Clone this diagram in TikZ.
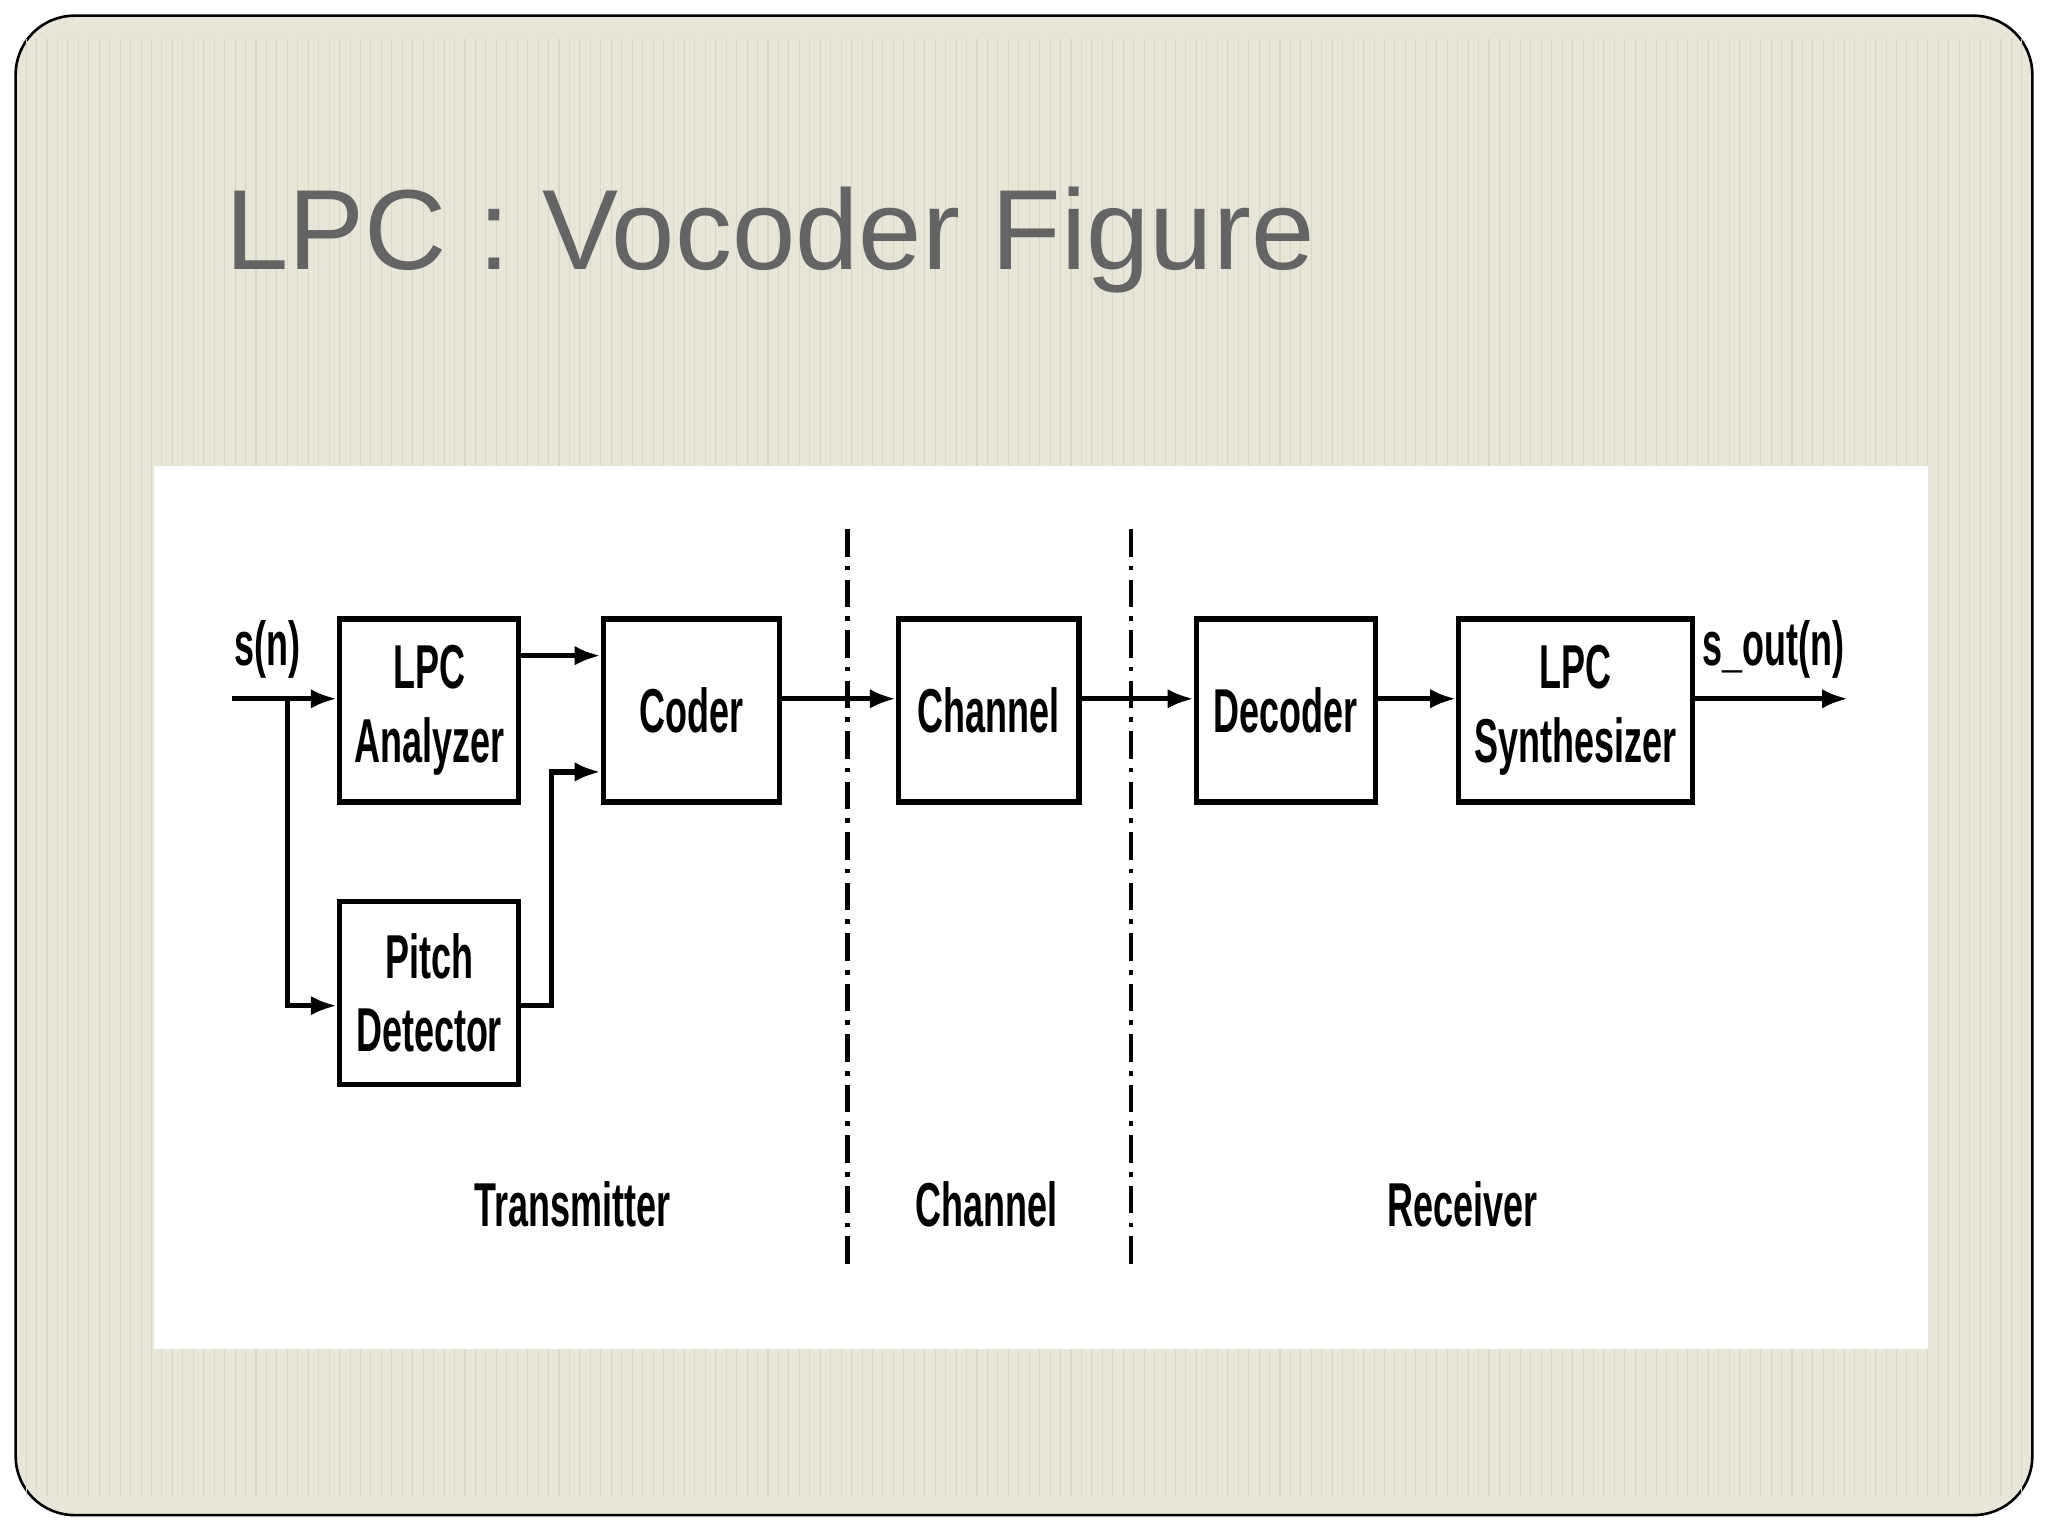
\documentclass[tikz,border=0pt]{standalone}
\usepackage{fontspec}
\setmainfont{Liberation Sans}
\usepackage{graphicx}
\usetikzlibrary{arrows.meta}
\definecolor{bgbeige}{RGB}{232,230,216}
\definecolor{stripe}{RGB}{218,215,198}
\definecolor{titlegray}{RGB}{100,100,100}
\newcommand{\cnd}[1]{\scalebox{0.58}[1]{#1}}
\begin{document}
\begin{tikzpicture}[x=0.01cm,y=-0.01cm,
  blk/.style={draw=black,line width=0.04cm,fill=white},
  lbl/.style={font=\fontsize{13.5}{14}\selectfont\bfseries,align=center,inner sep=0pt},
  con/.style={line width=0.04cm,-{Latex[length=0.2cm,width=0.15cm]}},
  sep/.style={line width=0.035cm,dash pattern=on 6pt off 2pt on 1pt off 2pt}]
\useasboundingbox (0,0) rectangle (1568,1176);
\fill[white] (0,0) rectangle (1568,1176);
\draw[fill=bgbeige,line width=0.02cm,rounded corners=0.45cm] (12,12) rectangle (1556,1160);
\foreach \x in {20,28,...,1550} \draw[stripe,line width=0.008cm] (\x,30) -- (\x,1145);
\node[anchor=west,text=titlegray,font=\fontsize{24.8}{28}\selectfont,inner sep=0pt] (title) at (172,184) {LPC : Vocoder Figure};
\fill[white] (118,357) rectangle (1476,1033);
\node[blk,minimum width=1.37cm,minimum height=1.4cm] (ana) at (328.5,544) {};
\node[lbl] at (ana) {\cnd{LPC}\\[2pt]\cnd{Analyzer}};
\node[blk,minimum width=1.35cm,minimum height=1.4cm] (cod) at (529.5,544) {};
\node[lbl] at (cod) {\cnd{Coder}};
\node[blk,minimum width=1.38cm,minimum height=1.4cm] (chn) at (757,544) {};
\node[lbl] at (chn) {\cnd{Channel}};
\node[blk,minimum width=1.37cm,minimum height=1.4cm] (dec) at (984.5,544) {};
\node[lbl] at (dec) {\cnd{Decoder}};
\node[blk,minimum width=1.79cm,minimum height=1.4cm] (syn) at (1206.5,544) {};
\node[lbl] at (syn) {\cnd{LPC}\\[2pt]\cnd{Synthesizer}};
\node[blk,minimum width=1.37cm,minimum height=1.4cm] (pit) at (328.5,760) {};
\node[lbl] at (pit) {\cnd{Pitch}\\[2pt]\cnd{Detector}};
\coordinate (in) at (178,535);
\coordinate (br) at (220,535);
\coordinate (out) at (1415,535);
\node[lbl] (sn) at (205,497) {\cnd{s(n)}};
\node[lbl] (so) at (1358,497) {\cnd{s\_out(n)}};
\draw[con] (in) -- (ana.west|-in);
\draw[con] (br) |- (pit.west|-0,770);
\draw[con] (ana.east|-0,502) -- (cod.west|-0,502);
\draw[con] (pit.east|-0,770) -- (422,770) |- (cod.west|-0,591);
\draw[con] (cod.east|-in) -- (chn.west|-in);
\draw[con] (chn.east|-in) -- (dec.west|-in);
\draw[con] (dec.east|-in) -- (syn.west|-in);
\draw[con] (syn.east|-in) -- (out);
\coordinate (d1a) at (649,405); \coordinate (d1b) at (649,970);
\coordinate (d2a) at (866,405); \coordinate (d2b) at (866,970);
\draw[sep] (d1a) -- (d1b);
\draw[sep] (d2a) -- (d2b);
\node[lbl] (tx) at (438,922) {\cnd{Transmitter}};
\node[lbl] (ch) at (755,922) {\cnd{Channel}};
\node[lbl] (rx) at (1120,922) {\cnd{Receiver}};
\end{tikzpicture}
\end{document}
